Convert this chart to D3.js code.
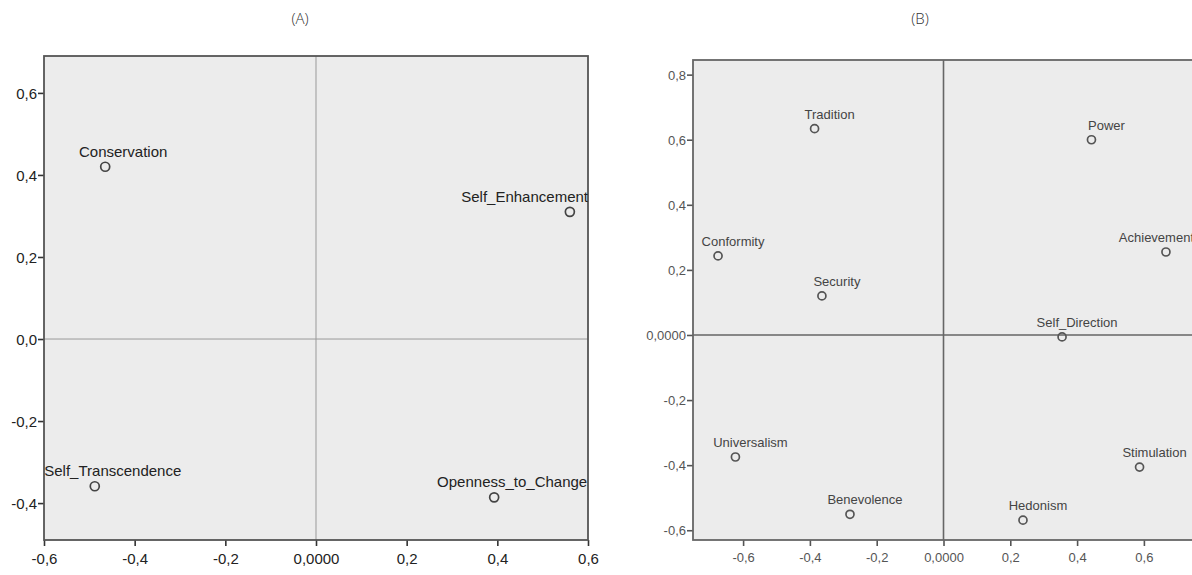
<!DOCTYPE html>
<html>
<head>
<meta charset="utf-8">
<script src="https://cdn.jsdelivr.net/npm/d3@7/dist/d3.min.js"></script>
<style>
  body { margin: 0; background: #fff; }
  svg { display: block; }
</style>
</head>
<body>
<svg id="chart" width="1192" height="575"></svg>
<script>
// ---------- DATA ----------
const titleA = "(A)";
const labelsA = ["Conservation", "Self_Enhancement", "Self_Transcendence", "Openness_to_Change"];
const xA = [-0.465, 0.56, -0.488, 0.393];
const yA = [0.42, 0.31, -0.359, -0.386];
const xTicksA = [-0.6, -0.4, -0.2, 0, 0.2, 0.4, 0.6];
const xTickLabelsA = ["-0,6", "-0,4", "-0,2", "0,0000", "0,2", "0,4", "0,6"];
const yTicksA = [-0.4, -0.2, 0, 0.2, 0.4, 0.6];
const yTickLabelsA = ["-0,4", "-0,2", "0,0", "0,2", "0,4", "0,6"];
const xDomainA = [-0.6, 0.6];
const yDomainA = [-0.49, 0.69];

const titleB = "(B)";
const labelsB = ["Tradition", "Power", "Conformity", "Achievement", "Security", "Self_Direction",
                 "Universalism", "Stimulation", "Benevolence", "Hedonism"];
const xB = [-0.386, 0.443, -0.675, 0.666, -0.364, 0.355, -0.623, 0.587, -0.28, 0.238];
const yB = [0.634, 0.6, 0.243, 0.255, 0.12, -0.006, -0.375, -0.406, -0.551, -0.569];
const xTicksB = [-0.6, -0.4, -0.2, 0, 0.2, 0.4, 0.6];
const xTickLabelsB = ["-0,6", "-0,4", "-0,2", "0,0000", "0,2", "0,4", "0,6"];
const yTicksB = [-0.6, -0.4, -0.2, 0, 0.2, 0.4, 0.6, 0.8];
const yTickLabelsB = ["-0,6", "-0,4", "-0,2", "0,0000", "0,2", "0,4", "0,6", "0,8"];
const xDomainB = [-0.75, 0.75];
const yDomainB = [-0.63, 0.845];

// ---------- DRAW ----------
const svg = d3.select("#chart");

function panel(cfg) {
  const x = d3.scaleLinear().domain(cfg.xDomain).range([cfg.left, cfg.right]);
  const y = d3.scaleLinear().domain(cfg.yDomain).range([cfg.bottom, cfg.top]);
  const g = svg.append("g");
  const id = "clip" + cfg.key;

  g.append("clipPath").attr("id", id)
    .append("rect").attr("x", cfg.left).attr("y", cfg.top)
    .attr("width", cfg.right - cfg.left).attr("height", cfg.bottom - cfg.top);

  g.append("rect").attr("x", cfg.left).attr("y", cfg.top)
    .attr("width", cfg.right - cfg.left).attr("height", cfg.bottom - cfg.top)
    .attr("fill", "#ececec");

  g.append("line").attr("x1", x(0)).attr("x2", x(0)).attr("y1", cfg.top).attr("y2", cfg.bottom)
    .attr("stroke", cfg.refColor).attr("stroke-width", cfg.refWidth);
  g.append("line").attr("x1", cfg.left).attr("x2", cfg.right).attr("y1", y(0)).attr("y2", y(0))
    .attr("stroke", cfg.refColor).attr("stroke-width", cfg.refWidth);

  const xAxis = d3.axisBottom(x).tickValues(cfg.xTicks).tickSize(6).tickPadding(5)
    .tickFormat((d, i) => cfg.xTickLabels[i]);
  const yAxis = d3.axisLeft(y).tickValues(cfg.yTicks).tickSize(6).tickPadding(1)
    .tickFormat((d, i) => cfg.yTickLabels[i]);

  const gx = g.append("g").attr("transform", `translate(0,${cfg.bottom})`).call(xAxis);
  const gy = g.append("g").attr("transform", `translate(${cfg.left},0)`).call(yAxis);
  [gx, gy].forEach(a => {
    a.select(".domain").remove();
    a.selectAll(".tick line").attr("stroke", cfg.tickColor).attr("stroke-width", 1.6);
    a.selectAll(".tick text").attr("fill", cfg.tickTextColor)
      .style("font-family", "'Liberation Sans', Arial, sans-serif")
      .style("font-size", cfg.tickFont + "px");
  });
  gx.selectAll(".tick text").attr("dy", "0.85em");
  gy.selectAll(".tick text").attr("dy", "0.35em");

  g.append("rect").attr("x", cfg.left).attr("y", cfg.top)
    .attr("width", cfg.right - cfg.left).attr("height", cfg.bottom - cfg.top)
    .attr("fill", "none").attr("stroke", cfg.frameColor).attr("stroke-width", cfg.frameWidth);

  const pts = g.append("g").attr("clip-path", `url(#${id})`);
  const data = cfg.labels.map((l, i) => ({ l, x: cfg.xs[i], y: cfg.ys[i] }));
  pts.selectAll("circle").data(data).join("circle")
    .attr("cx", d => x(d.x)).attr("cy", d => y(d.y)).attr("r", cfg.r)
    .attr("fill", "none").attr("stroke", cfg.pointColor).attr("stroke-width", 1.7);

  const txt = pts.selectAll("text").data(data).join("text")
    .attr("y", d => y(d.y) - cfg.labelUp)
    .attr("fill", cfg.labelColor)
    .style("font-family", "'Liberation Sans', Arial, sans-serif")
    .style("font-size", cfg.labelFont + "px")
    .text(d => d.l);
  txt.each(function (d) {
    const w = this.getComputedTextLength();
    let sx = x(d.x) + cfg.labelShift - w / 2;
    if (sx < cfg.left) sx = cfg.left;
    if (sx + w > cfg.right) sx = cfg.right - w;
    d3.select(this).attr("x", sx);
  });

  svg.append("text").attr("x", cfg.titleX).attr("y", 24).attr("text-anchor", "middle")
    .attr("fill", "#333")
    .style("font-family", "'Open Sans', 'Noto Sans', sans-serif")
    .style("font-weight", 300)
    .style("font-size", "15px")
    .text(cfg.title);
}

panel({
  key: "A", title: titleA, titleX: 300,
  left: 44, right: 588, top: 56, bottom: 540,
  xDomain: xDomainA, yDomain: yDomainA,
  xTicks: xTicksA, xTickLabels: xTickLabelsA, yTicks: yTicksA, yTickLabels: yTickLabelsA,
  labels: labelsA, xs: xA, ys: yA,
  refColor: "#999", refWidth: 1, frameColor: "#555", frameWidth: 1.8,
  tickColor: "#333", tickTextColor: "#222", tickFont: 15,
  pointColor: "#444", labelColor: "#222", labelFont: 15, labelUp: 10, labelShift: 18, r: 4.5
});

panel({
  key: "B", title: titleB, titleX: 920,
  left: 693, right: 1194, top: 60, bottom: 540,
  xDomain: xDomainB, yDomain: yDomainB,
  xTicks: xTicksB, xTickLabels: xTickLabelsB, yTicks: yTicksB, yTickLabels: yTickLabelsB,
  labels: labelsB, xs: xB, ys: yB,
  refColor: "#666", refWidth: 1.6, frameColor: "#666", frameWidth: 1.8,
  tickColor: "#555", tickTextColor: "#555", tickFont: 13,
  pointColor: "#555", labelColor: "#444", labelFont: 13, labelUp: 10, labelShift: 15, r: 4
});
</script>
</body>
</html>
